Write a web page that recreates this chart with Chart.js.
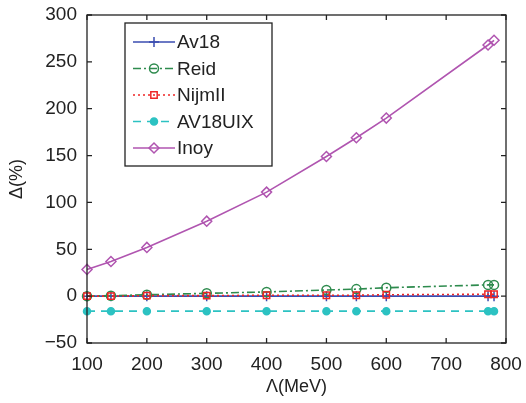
<!DOCTYPE html>
<html>
<head>
<meta charset="utf-8">
<script src="https://cdn.jsdelivr.net/npm/chart.js@4/dist/chart.umd.min.js"></script>
<style>
  html, body { margin: 0; padding: 0; background: #fff; }
  #wrap { width: 526px; height: 403px; position: relative; }
</style>
</head>
<body>
<div id="wrap"><canvas id="chart"></canvas></div>
<script>
// Lambda cutoff (MeV)
const lambdas = [100, 140, 200, 300, 400, 500, 550, 600, 770, 780];

// Delta (%) per potential
const av18    = [0, 0, 0, 0, 0, 0, 0, 0, 0, 0];
const reid    = [0, 0.5, 1.5, 3, 4.5, 6.5, 7.5, 9, 12, 12];
const nijm2   = [0, 0, 0.5, 0.5, 1, 1, 1, 1.5, 2, 2];
const av18uix = [-16, -16, -16, -16, -16, -16, -16, -16, -16, -16];
const inoy    = [28.5, 37, 52, 80, 111, 149, 169, 190, 268, 273];

const xTicks = [100, 200, 300, 400, 500, 600, 700, 800];
const yTicks = [-50, 0, 50, 100, 150, 200, 250, 300];

const FONT = "'Liberation Sans', Arial, Helvetica, sans-serif";
const TXT = '#222';

function pts(ys) {
    return lambdas.map((x, i) => ({x: x, y: ys[i]}));
}

// box + inward ticks on all four sides, matlab style
const boxPlugin = {
    id: 'box',
    afterDatasetsDraw(chart) {
        const {ctx, chartArea: a, scales} = chart;
        ctx.save();
        ctx.strokeStyle = '#222';
        ctx.lineWidth = 1.3;
        ctx.strokeRect(a.left, a.top, a.right - a.left, a.bottom - a.top);
        const len = 5;
        ctx.beginPath();
        xTicks.forEach(v => {
            const px = scales.x.getPixelForValue(v);
            ctx.moveTo(px, a.bottom); ctx.lineTo(px, a.bottom - len);
            ctx.moveTo(px, a.top); ctx.lineTo(px, a.top + len);
        });
        yTicks.forEach(v => {
            const py = scales.y.getPixelForValue(v);
            ctx.moveTo(a.left, py); ctx.lineTo(a.left + len, py);
            ctx.moveTo(a.right, py); ctx.lineTo(a.right - len, py);
        });
        ctx.stroke();
        ctx.restore();
    }
};

// legend drawn inside the plot, upper left
const legendPlugin = {
    id: 'boxLegend',
    afterDraw(chart) {
        const ctx = chart.ctx;
        const x0 = 125, y0 = 23, w = 147, h = 143;
        ctx.save();
        ctx.fillStyle = '#fff';
        ctx.fillRect(x0, y0, w, h);
        ctx.strokeStyle = '#222';
        ctx.lineWidth = 1.3;
        ctx.strokeRect(x0, y0, w, h);
        chart.data.datasets.forEach((ds, i) => {
            const y = y0 + 19 + i * 26.5;
            ctx.strokeStyle = ds.borderColor;
            ctx.lineWidth = ds.borderWidth;
            ctx.setLineDash(ds.borderDash || []);
            ctx.beginPath();
            ctx.moveTo(133, y); ctx.lineTo(175, y);
            ctx.stroke();
            ctx.setLineDash([]);
            ctx.strokeStyle = ds.pointBorderColor;
            ctx.fillStyle = ds.pointBackgroundColor;
            ctx.lineWidth = ds.pointBorderWidth;
            Chart.helpers.drawPoint(ctx, {
                pointStyle: ds.pointStyle,
                radius: ds.pointRadius,
                borderWidth: ds.pointBorderWidth
            }, 154, y);
            ctx.fillStyle = TXT;
            ctx.font = '19px ' + FONT;
            ctx.textAlign = 'left';
            ctx.textBaseline = 'middle';
            ctx.fillText(ds.label, 177, y + 1);
        });
        ctx.restore();
    }
};

function series(label, data, color, style, dash, radius, fill, order) {
    return {
        label: label,
        data: pts(data),
        borderColor: color,
        backgroundColor: fill ? color : 'rgba(0,0,0,0)',
        pointBorderColor: color,
        pointBackgroundColor: fill ? color : 'rgba(0,0,0,0)',
        borderWidth: 1.6,
        borderDash: dash,
        pointStyle: style,
        pointRadius: radius,
        pointBorderWidth: 1.5,
        tension: 0,
        clip: false,
        order: order
    };
}

const ctx = document.getElementById('chart');
new Chart(ctx, {
    type: 'line',
    data: {
        datasets: [
            series('Av18', av18, '#3a4cb0', 'cross', [], 5, false, 5),
            series('Reid', reid, '#2e8b4e', 'circle', [8, 3, 2, 3], 4.5, false, 4),
            series('NijmII', nijm2, '#ee2626', 'rect', [2, 3], 4.5, false, 3),
            series('AV18UIX', av18uix, '#2cc2c2', 'circle', [8, 6], 3.5, true, 2),
            series('Inoy', inoy, '#b055b0', 'rectRot', [], 5, false, 1)
        ]
    },
    options: {
        responsive: true,
        maintainAspectRatio: false,
        animation: false,
        layout: { padding: { top: 15, right: 20, left: 0, bottom: 0 } },
        plugins: {
            legend: { display: false },
            tooltip: { enabled: false }
        },
        scales: {
            x: {
                type: 'linear',
                min: 100,
                max: 800,
                afterFit: s => { s.height = 60; s.paddingLeft = 0; s.paddingRight = 0; },
                afterBuildTicks: s => { s.ticks = xTicks.map(v => ({value: v})); },
                grid: { display: false, drawTicks: false },
                border: { display: false },
                ticks: {
                    color: TXT,
                    padding: 10,
                    font: { family: FONT, size: 19 },
                    maxRotation: 0
                },
                title: {
                    display: true,
                    text: 'Λ(MeV)',
                    color: TXT,
                    font: { family: FONT, size: 18 },
                    padding: { top: 0, bottom: 5 }
                }
            },
            y: {
                type: 'linear',
                min: -50,
                max: 300,
                afterFit: s => { s.width = 87; s.paddingTop = 0; s.paddingBottom = 0; },
                afterBuildTicks: s => { s.ticks = yTicks.map(v => ({value: v})); },
                grid: { display: false, drawTicks: false },
                border: { display: false },
                ticks: {
                    color: TXT,
                    padding: 10,
                    font: { family: FONT, size: 19 },
                    callback: v => (v < 0 ? '\u2212' + Math.abs(v) : String(v))
                },
                title: {
                    display: true,
                    text: 'Δ(%)',
                    color: TXT,
                    font: { family: FONT, size: 18 },
                    padding: { top: 6, bottom: 0 }
                }
            }
        }
    },
    plugins: [boxPlugin, legendPlugin]
});
</script>
</body>
</html>
